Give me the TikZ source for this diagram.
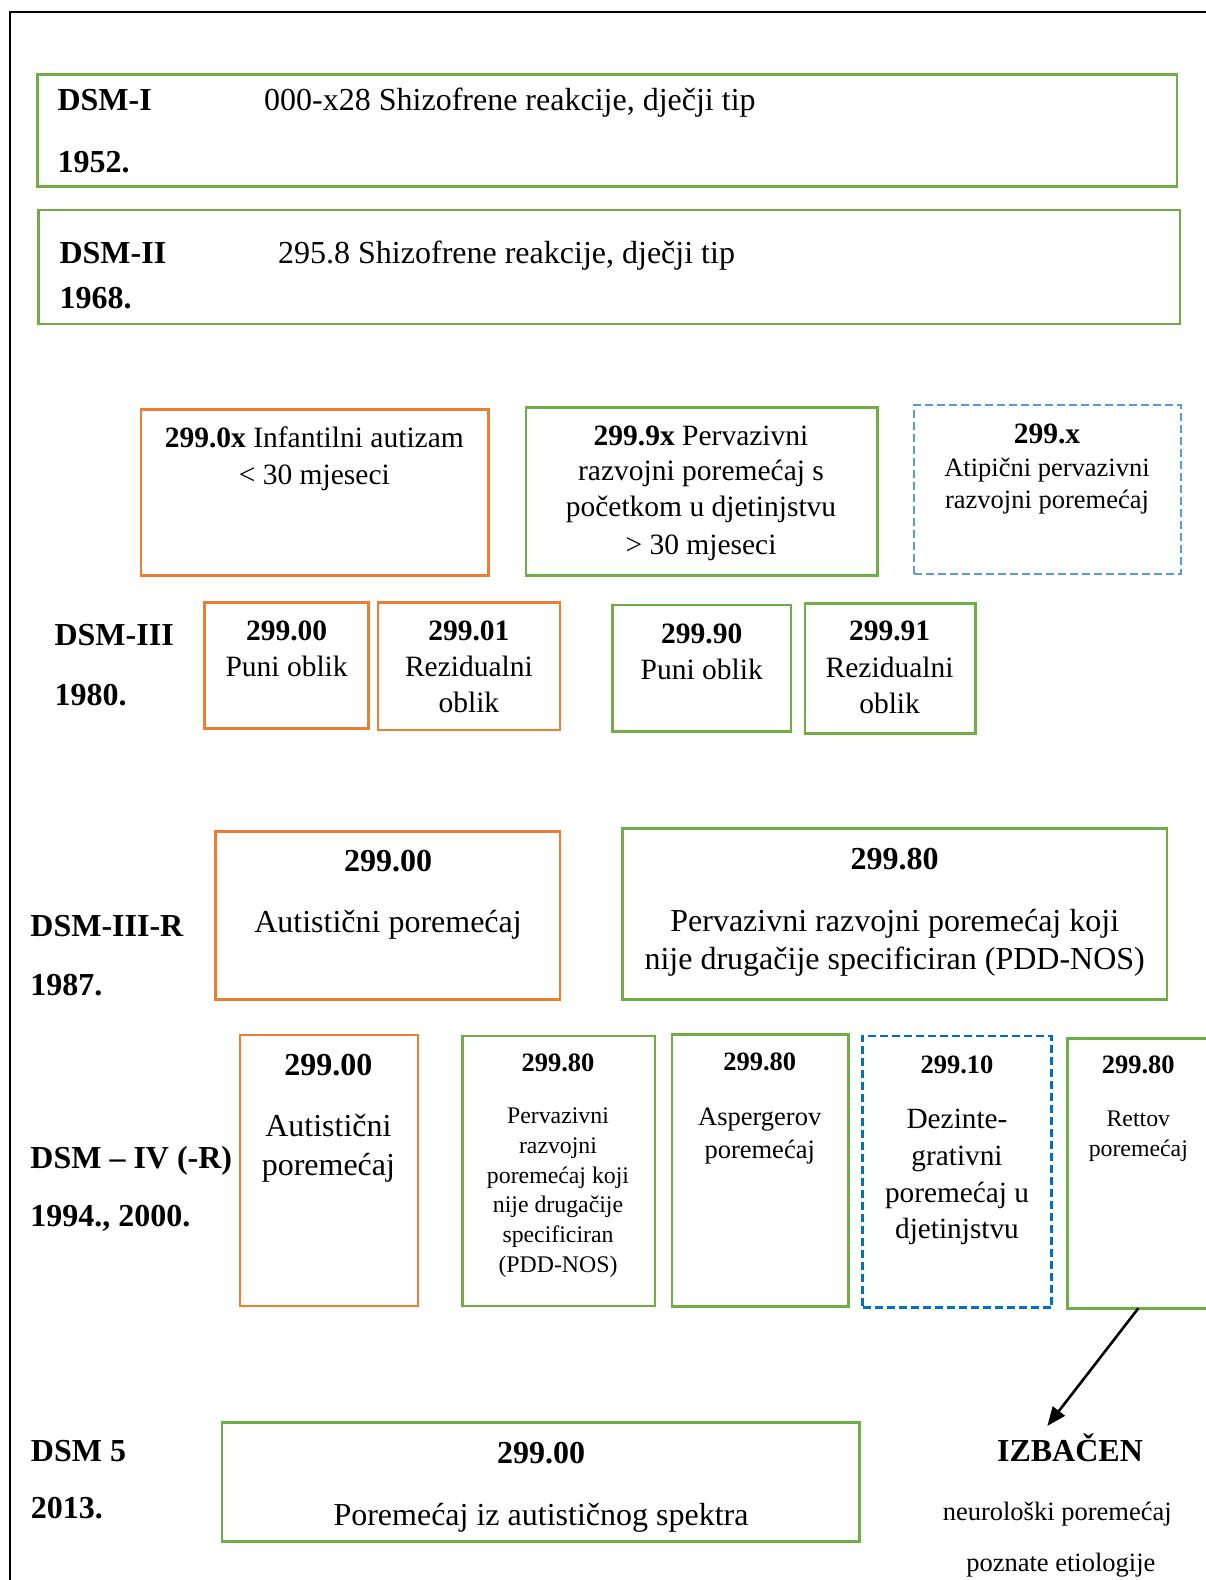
\documentclass[tikz,border=0pt]{standalone}
\usepackage{fontspec}
\setmainfont{Liberation Serif}
\usetikzlibrary{arrows.meta}
\definecolor{gr}{HTML}{70AD47}
\definecolor{org}{HTML}{ED7D31}
\definecolor{lb}{HTML}{5B9BD5}
\definecolor{db}{HTML}{0070C0}
\newcommand\fsz[1]{\fontsize{#1}{#1}\selectfont}
\begin{document}
\begin{tikzpicture}[x=1pt,y=-1pt,
  box/.style={draw, rectangle, line width=2.5pt, inner sep=0pt, outer sep=0pt},
  gbox/.style={box, draw=gr},
  obox/.style={box, draw=org},
  lbbox/.style={box, draw=lb, dash pattern=on 8pt off 4pt},
  dbbox/.style={box, draw=db, dash pattern=on 8pt off 4pt},
  lab/.style={inner sep=0pt, anchor=base west, font={\fsz{32}\bfseries}},
  tl/.style={inner sep=0pt, anchor=base west, font={\fsz{32}}},
  tA/.style={inner sep=0pt, anchor=base, font={\fsz{32}}},
  hA/.style={inner sep=0pt, anchor=base, font={\fsz{32}\bfseries}},
  tB/.style={inner sep=0pt, anchor=base, font={\fsz{29.5}}},
  hB/.style={inner sep=0pt, anchor=base, font={\fsz{29.5}\bfseries}},
  tC/.style={inner sep=0pt, anchor=base, font={\fsz{26.5}}},
  hC/.style={inner sep=0pt, anchor=base, font={\fsz{26.5}\bfseries}},
  tD/.style={inner sep=0pt, anchor=base, font={\fsz{23.8}}},
  tE/.style={inner sep=0pt, anchor=base, font={\fsz{29.3}}},
  arr/.style={line width=2.6pt, -{Triangle[length=19pt,width=15pt]}}
]
\useasboundingbox (0,0) rectangle (1206,1580);
\clip (0,0) rectangle (1206,1580);
\fill[white] (0,0) rectangle (1206,1580);

% outer frame
\draw[line width=2.5pt] (10,1600) -- (10,12) -- (1220,12);

% DSM-I
\node[gbox, minimum width=1139.7pt, minimum height=112pt] (b1) at (607.2,130.5) {};
\node[lab] (l1a) at (57.4,110) {DSM-I};
\node[lab] (l1b) at (57.4,172.5) {1952.};
\node[tl] (t1) at (264,110) {000-x28 Shizofrene reakcije, dječji tip};

% DSM-II
\node[gbox, minimum width=1141.7pt, minimum height=114pt] (b2) at (609.2,267) {};
\node[lab] (l2a) at (59.4,263.3) {DSM-II};
\node[lab] (l2b) at (59.4,308.7) {1968.};
\node[tl] (t2) at (278,263.3) {295.8 Shizofrene reakcije, dječji tip};

% DSM-III top row
\node[obox, minimum width=347.6pt, minimum height=166pt] (b3a) at (314.8,492.3) {};
\node[tB] (t3a1) at (314.3,447.3) {\textbf{299.0x} Infantilni autizam};
\node[tB] (t3a2) at (314.3,484) {< 30 mjeseci};

\node[gbox, minimum width=351.5pt, minimum height=168pt] (b3b) at (701.8,491.3) {};
\node[tB] (t3b1) at (701,445) {\textbf{299.9x} Pervazivni};
\node[tB] (t3b2) at (701,480.7) {razvojni poremećaj s};
\node[tB] (t3b3) at (701,516.7) {početkom u djetinjstvu};
\node[tB] (t3b4) at (701,554) {> 30 mjeseci};

\node[lbbox, minimum width=267pt, minimum height=169pt] (b3c) at (1047.3,489.5) {};
\node[hB] (t3c1) at (1047,443.3) {299.x};
\node[tC] (t3c2) at (1047,476) {Atipični pervazivni};
\node[tC] (t3c3) at (1047,508.3) {razvojni poremećaj};

% DSM-III bottom row
\node[lab] (l3a) at (54.4,645) {DSM-III};
\node[lab] (l3b) at (54.4,705) {1980.};

\node[obox, minimum width=164.2pt, minimum height=126pt] (b3d) at (286.6,665.3) {};
\node[hB] (t3d1) at (286.6,640.7) {299.00};
\node[tB] (t3d2) at (286.6,676.7) {Puni oblik};

\node[obox, minimum width=182.2pt, minimum height=127.7pt] (b3e) at (468.9,666.2) {};
\node[hB] (t3e1) at (468.9,640.7) {299.01};
\node[tB] (t3e2) at (468.9,676.7) {Rezidualni};
\node[tB] (t3e3) at (468.9,712.7) {oblik};

\node[gbox, minimum width=178.4pt, minimum height=126.7pt] (b3f) at (701.8,668.3) {};
\node[hB] (t3f1) at (701.8,643.3) {299.90};
\node[tB] (t3f2) at (701.8,679.3) {Puni oblik};

\node[gbox, minimum width=170.3pt, minimum height=129.6pt] (b3g) at (890.2,668.5) {};
\node[hB] (t3g1) at (889.6,640.7) {299.91};
\node[tB] (t3g2) at (889.6,677.3) {Rezidualni};
\node[tB] (t3g3) at (889.6,713.3) {oblik};

% DSM-III-R
\node[lab] (l4a) at (30.2,936.7) {DSM-III-R};
\node[lab] (l4b) at (30.2,995) {1987.};

\node[obox, minimum width=344.4pt, minimum height=167.6pt] (b4a) at (387.8,915.5) {};
\node[hA] (t4a1) at (388,871.7) {299.00};
\node[tA] (t4a2) at (388,932.7) {Autistični poremećaj};

\node[gbox, minimum width=544.1pt, minimum height=171pt] (b4b) at (894.7,913.8) {};
\node[hA] (t4b1) at (894.7,869) {299.80};
\node[tA] (t4b2) at (894.7,931.7) {Pervazivni razvojni poremećaj koji};
\node[tA] (t4b3) at (894.7,969.3) {nije drugačije specificiran (PDD-NOS)};

% DSM-IV
\node[lab] (l5a) at (30.2,1168.3) {DSM – IV (-R)};
\node[lab] (l5b) at (30.2,1226.7) {1994., 2000.};

\node[obox, minimum width=178.2pt, minimum height=270.7pt] (b5a) at (328.9,1170.4) {};
\node[hA] (t5a1) at (328.4,1075) {299.00};
\node[tA] (t5a2) at (328.4,1136) {Autistični};
\node[tA] (t5a3) at (328.4,1175) {poremećaj};

\node[gbox, minimum width=192.5pt, minimum height=269.7pt] (b5b) at (558.7,1170.9) {};
\node[hC] (t5b1) at (558,1071.7) {299.80};
\node[tD] (t5b2) at (558,1123.3) {Pervazivni};
\node[tD] (t5b3) at (558,1153.3) {razvojni};
\node[tD] (t5b4) at (558,1183.3) {poremećaj koji};
\node[tD] (t5b5) at (558,1212.7) {nije drugačije};
\node[tD] (t5b6) at (558,1242.7) {specificiran};
\node[tD] (t5b7) at (558,1272.3) {(PDD-NOS)};

\node[gbox, minimum width=176.3pt, minimum height=272pt] (b5c) at (760.2,1170.7) {};
\node[hC] (t5c1) at (759.7,1070) {299.80};
\node[tC] (t5c2) at (759.7,1125) {Aspergerov};
\node[tC] (t5c3) at (759.7,1158.5) {poremećaj};

\node[dbbox, minimum width=189.2pt, minimum height=271.3pt] (b5d) at (957.1,1171.7) {};
\node[hC] (t5d1) at (957,1073.3) {299.10};
\node[tE] (t5d2) at (957,1128.3) {Dezinte-};
\node[tE] (t5d3) at (957,1165) {grativni};
\node[tE] (t5d4) at (957,1202.7) {poremećaj u};
\node[tE] (t5d5) at (957,1238.3) {djetinjstvu};

\node[gbox, minimum width=142pt, minimum height=270pt] (b5e) at (1138.3,1173.3) {};
\node[hC] (t5e1) at (1138.3,1073.3) {299.80};
\node[tD] (t5e2) at (1138.3,1126) {Rettov};
\node[tD] (t5e3) at (1138.3,1156) {poremećaj};

% DSM 5
\node[lab] (l6a) at (30.7,1461) {DSM 5};
\node[lab] (l6b) at (30.7,1518.3) {2013.};

\node[gbox, minimum width=637.7pt, minimum height=119.2pt] (b6) at (540.6,1482.1) {};
\node[hA] (t6a) at (541,1463.3) {299.00};
\node[tA] (t6b) at (541,1525) {Poremećaj iz autističnog spektra};

\node[hA] (iz) at (1070,1461.7) {IZBAČEN};
\node[tC] (iz2) at (1057.2,1520) {neurološki poremećaj};
\node[tC] (iz3) at (1060.8,1571.7) {poznate etiologije};

\coordinate (izb) at (1047.3,1426);
\draw[arr] (b5e.south) -- (izb);
\end{tikzpicture}
\end{document}
